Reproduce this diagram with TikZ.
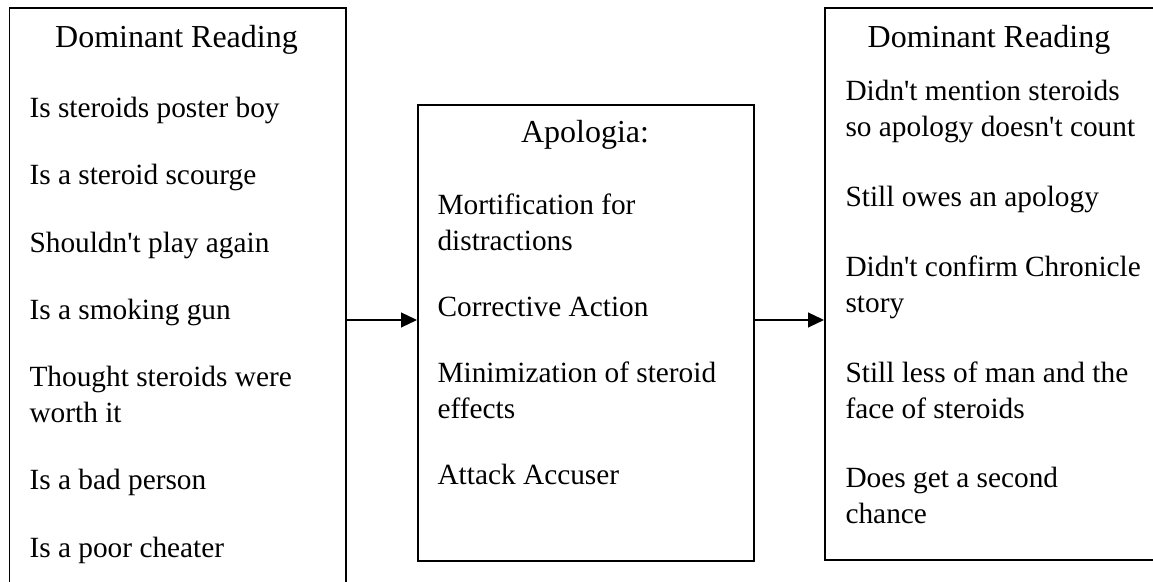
\documentclass[tikz,border=0pt]{standalone}
\usepackage{fontspec}
\setmainfont{Liberation Serif}
\usetikzlibrary{arrows.meta}
\tikzset{
	box/.style={draw, line width=0.7pt, rectangle, inner sep=0pt, anchor=north west},
	title/.style={inner sep=0pt, anchor=base, font=\fontsize{12pt}{13.5pt}\selectfont},
	item/.style={inner sep=0pt, anchor=base west, font=\fontsize{11pt}{13.5pt}\selectfont},
	flow/.style={line width=0.5pt, -{Triangle[length=6pt,width=5.6pt]}}
}
\newcommand{\ap}{\textquotesingle}
% two lines, baseline of the first one
\newcommand{\twolines}[2]{\vtop{\hbox{#1}\hbox{#2}}}

\begin{document}
\begin{tikzpicture}[x=0.375pt,y=-0.375pt]
	\useasboundingbox (0,0) rectangle (1153,582);
	\clip (0,0) rectangle (1153,582);

	% boxes
	\node[box, minimum width=126.2pt, minimum height=244pt] (leftbox) at (8.5,7.5) {};
	\node[box, minimum width=126pt, minimum height=171pt] (midbox) at (417,104) {};
	\node[box, minimum width=126pt, minimum height=207pt] (rightbox) at (824,7.5) {};

	% titles
	\node[title] (lefttitle) at (176.5,48) {Dominant Reading};
	\node[title] (midtitle) at (585,143) {Apologia:};
	\node[title] (righttitle) at (989,48) {Dominant Reading};

	% readings and strategies
	\foreach \y/\txt [count=\i] in {118/Is steroids poster boy, 185/Is a steroid scourge,
			253/{Shouldn\ap t play again}, 320/Is a smoking gun,
			387/{\twolines{Thought steroids were}{worth it}}, 490/Is a bad person, 558/Is a poor cheater}
		\node[item] (l\i) at (29,\y) {\txt};
	\foreach \y/\txt [count=\i] in {215/{\twolines{Mortification for}{distractions}}, 317/Corrective Action,
			383/{\twolines{Minimization of steroid}{effects}}, 485/Attack Accuser}
		\node[item] (m\i) at (437,\y) {\txt};
	\foreach \y/\txt [count=\i] in {101/{\twolines{Didn\ap t mention steroids}{so apology doesn\ap t count}},
			207/Still owes an apology, 277/{\twolines{Didn\ap t confirm Chronicle}{story}},
			383/{\twolines{Still less of man and the}{face of steroids}}, 488/{\twolines{Does get a second}{chance}}}
		\node[item] (r\i) at (845,\y) {\txt};

	% arrows
	\coordinate (flowline) at (0,320);
	\draw[flow] (leftbox.east |- flowline) -- (midbox.west |- flowline);
	\draw[flow] (midbox.east |- flowline) -- (rightbox.west |- flowline);
\end{tikzpicture}
\end{document}
